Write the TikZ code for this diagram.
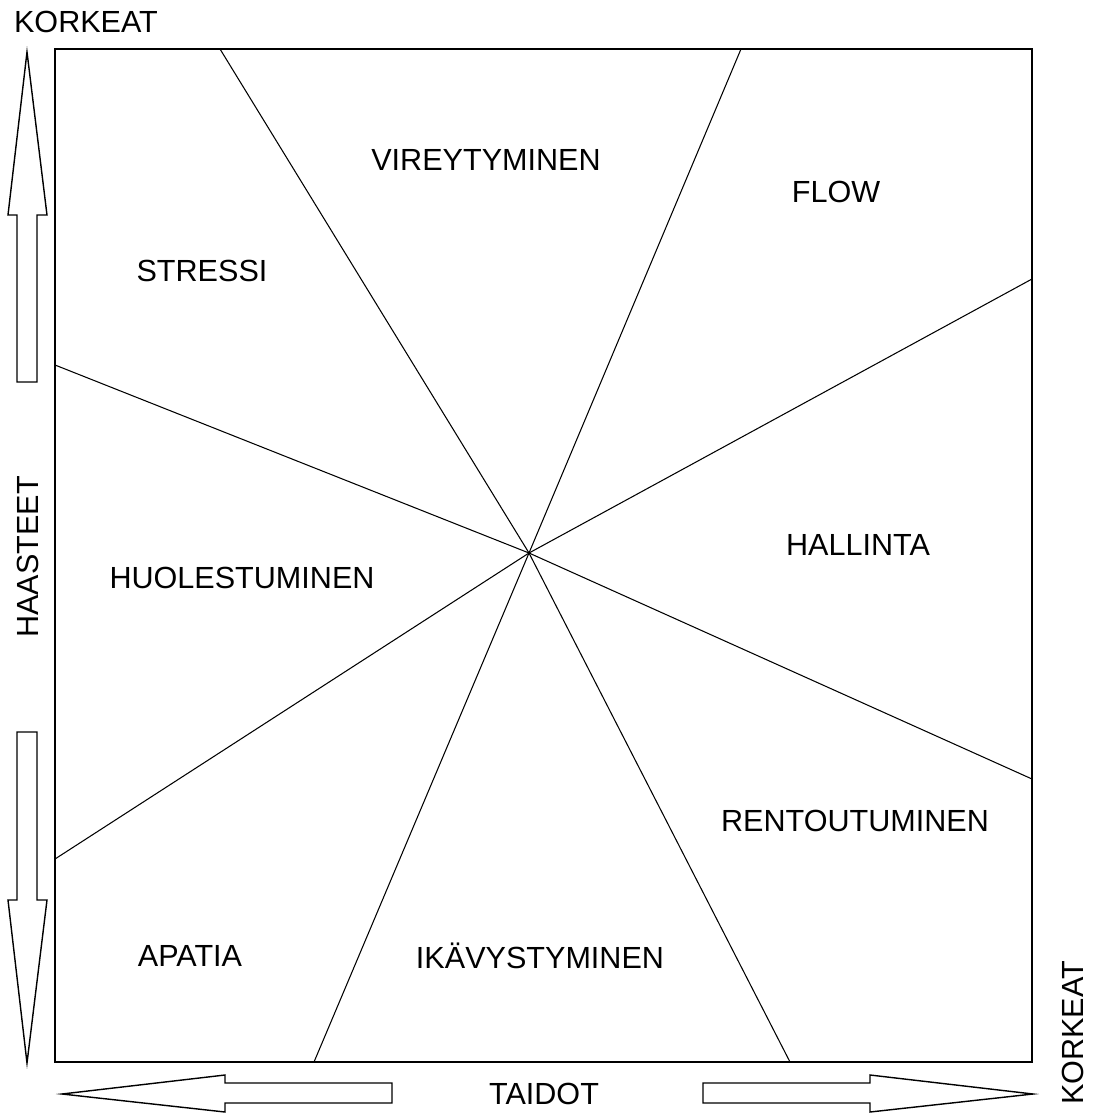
\documentclass[tikz,border=0pt]{standalone}
\usepackage{fontspec}
\setmainfont{Liberation Sans}
\usepackage{tikz}
\usetikzlibrary{positioning,calc}
\tikzset{
  lbl/.style={font=\fontsize{17.4}{20}\selectfont,inner sep=0pt},
  frame/.style={draw=black,line width=0.9pt},
  ray/.style={draw=black,line width=0.6pt},
  bigarrow/.style={draw=black,line width=0.8pt,fill=white,line join=miter},
}

\begin{document}
\begin{tikzpicture}[x=0.02cm,y=-0.02cm]
  \useasboundingbox (0,0) rectangle (1095,1115);
  % frame and centre
  \draw[frame] (55,49) rectangle (1032,1062);
  \coordinate (c) at (529,553);
  \coordinate (t1) at (220,49);
  \coordinate (t2) at (741,49);
  \coordinate (l1) at (55,365);
  \coordinate (l2) at (55,859);
  \coordinate (r1) at (1032,279);
  \coordinate (r2) at (1032,779);
  \coordinate (b1) at (314,1062);
  \coordinate (b2) at (790,1062);
  \foreach \p in {t1,t2,l1,l2,r1,r2,b1,b2}{\draw[ray] (c) -- (\p);}
  % region labels
  \node[lbl] (vir) at (486,160) {VIREYTYMINEN};
  \node[lbl] (flow) at (836,192) {FLOW};
  \node[lbl] (str) at (202,271) {STRESSI};
  \node[lbl] (huo) at (242,578) {HUOLESTUMINEN};
  \node[lbl] (hal) at (858,545) {HALLINTA};
  \node[lbl] (ren) at (855,821) {RENTOUTUMINEN};
  \node[lbl] (apa) at (190,956) {APATIA};
  \node[lbl] (ika) at (540,956) {IKÄVYSTYMINEN};
  % axis arrows
  \draw[bigarrow] (27,52) -- (47,215) -- (37,215) -- (37,382) -- (17,382) -- (17,215) -- (8,215) -- cycle;
  \draw[bigarrow] (17,732) -- (37,732) -- (37,900) -- (47,900) -- (27,1063) -- (8,900) -- (17,900) -- cycle;
  \draw[bigarrow] (62,1094) -- (225,1075) -- (225,1083) -- (392,1083) -- (392,1103) -- (225,1103) -- (225,1112) -- cycle;
  \draw[bigarrow] (703,1083) -- (870,1083) -- (870,1075) -- (1033,1094) -- (870,1112) -- (870,1103) -- (703,1103) -- cycle;
  % axis labels
  \node[lbl] (ktop) at (86,22) {KORKEAT};
  \node[lbl,rotate=90] (haa) at (28,557) {HAASTEET};
  \node[lbl] (tai) at (544,1094) {TAIDOT};
  \node[lbl,rotate=90] (kright) at (1073,1033) {KORKEAT};
\end{tikzpicture}
\end{document}
